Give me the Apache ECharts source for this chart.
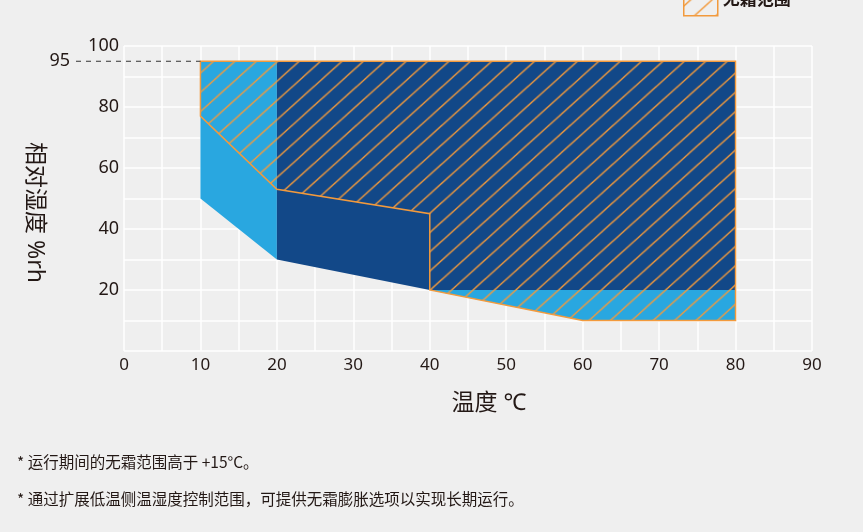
<!DOCTYPE html>
<html lang="zh">
<head>
    <meta charset="utf-8">
    <title>无霜范围</title>
    <script src="https://cdn.jsdelivr.net/npm/echarts@6/dist/echarts.min.js"></script>
    <style>
        html, body { margin: 0; padding: 0; background: #efefef; }
        #chart { width: 863px; height: 532px; }
    </style>
</head>
<body>
<div id="chart"></div>
<script type="text/javascript">
    // 区域顶点 [温度, 相对湿度]
    var lightLeft = [[10, 95], [20, 95], [20, 30], [10, 50]];
    var lightBottom = [[40, 20], [80, 20], [80, 10], [60, 10]];
    var darkArea = [[20, 95], [80, 95], [80, 20], [40, 20], [20, 30]];
    var frostFree = [[10, 95], [80, 95], [80, 10], [60, 10], [40, 20], [40, 45], [20, 53], [10, 77]];
    var guide95 = [[0, 95], [10, 95]];
    var guideLabel = '95';
    var notes = [
        '* 运行期间的无霜范围高于 +15°C。',
        '* 通过扩展低温侧温湿度控制范围，可提供无霜膨胀选项以实现长期运行。'
    ];

    var ORANGE = '#f29a3d';
    var TEXT = '#231815';

    // 斜线纹理（约42°）
    var tile = document.createElement('canvas');
    tile.width = 40; tile.height = 40;
    var tc = tile.getContext('2d');
    tc.strokeStyle = ORANGE;
    tc.lineWidth = 1.4;
    tc.beginPath();
    for (var c = -20; c <= 80; c += 20) {
        tc.moveTo(c + 2, -2);
        tc.lineTo(c - 42, 42);
    }
    tc.stroke();
    var hatch = { image: tile, repeat: 'repeat', x: 3.4, y: 0, scaleX: 1.07, scaleY: 0.963 };

    function polygonSeries(name, pts, style, z) {
        return {
            type: 'custom',
            name: name,
            z: z,
            data: pts,
            encode: { x: 0, y: 1 },
            renderItem: function (params, api) {
                if (params.dataIndex !== 0) return null;
                var points = pts.map(function (p) { return api.coord(p); });
                return { type: 'polygon', shape: { points: points }, style: style };
            }
        };
    }

    var chart = echarts.init(document.getElementById('chart'), null, { renderer: 'canvas' });
    var option = {
        backgroundColor: '#efefef',
        animation: false,
        textStyle: { fontFamily: '"Noto Sans", "Noto Sans CJK SC", sans-serif', color: TEXT },
        grid: { left: 124, right: 51, top: 46, bottom: 181 },
        legend: {
            data: [{
                name: '无霜范围',
                icon: 'rect',
                itemStyle: { color: hatch, borderColor: ORANGE, borderWidth: 1.5 }
            }],
            left: 683, top: -17, padding: 0,
            itemWidth: 34, itemHeight: 32,
            textStyle: { fontSize: 17, fontWeight: 'bold', color: TEXT }
        },
        xAxis: {
            type: 'value', min: 0, max: 90, interval: 10,
            name: '温度 ℃', nameLocation: 'middle', nameGap: 41,
            nameTextStyle: { fontSize: 23, color: TEXT, padding: [0, 0, 0, 42] },
            axisLine: { show: false }, axisTick: { show: false },
            axisLabel: { fontSize: 17, color: TEXT, margin: 6 },
            splitLine: { lineStyle: { color: '#ffffff', width: 1.5 } },
            minorTick: { show: false, splitNumber: 2 },
            minorSplitLine: { show: true, lineStyle: { color: '#ffffff', width: 1.5 } }
        },
        yAxis: {
            type: 'value', min: 0, max: 100, interval: 20,
            name: '相对湿度 %rh', nameLocation: 'middle', nameGap: 78, nameRotate: -90,
            nameTextStyle: { fontSize: 23, color: TEXT, padding: [0, 0, 0, 28] },
            axisLine: { show: false }, axisTick: { show: false },
            axisLabel: { fontSize: 18, color: TEXT, margin: 5, showMinLabel: false, padding: [0, 0, 5, 0] },
            splitLine: { lineStyle: { color: '#ffffff', width: 1.5 } },
            minorTick: { show: false, splitNumber: 2 },
            minorSplitLine: { show: true, lineStyle: { color: '#ffffff', width: 1.5 } }
        },
        graphic: notes.map(function (t, i) {
            return {
                type: 'text', left: 17, top: 454 + i * 37,
                style: { text: t, fontSize: 15.5, fill: TEXT, fontFamily: '"Noto Sans CJK SC", sans-serif' }
            };
        }),
        series: [
            polygonSeries('浅蓝左', lightLeft, { fill: '#29a7e0' }, 1),
            polygonSeries('浅蓝下', lightBottom, { fill: '#29a7e0' }, 1),
            polygonSeries('深蓝', darkArea, { fill: '#124888' }, 2),
            {
                type: 'custom',
                name: '无霜范围',
                z: 3,
                data: frostFree,
                encode: { x: 0, y: 1 },
                itemStyle: { color: hatch, borderColor: ORANGE, borderWidth: 1.5 },
                renderItem: function (params, api) {
                    if (params.dataIndex !== 0) return null;
                    var points = frostFree.map(function (p) { return api.coord(p); });
                    return {
                        type: 'polygon', shape: { points: points },
                        style: { fill: hatch, stroke: ORANGE, lineWidth: 1.5, lineJoin: 'miter' }
                    };
                }
            },
            {
                type: 'custom',
                name: '95',
                z: 4,
                clip: false,
                data: guide95,
                encode: { x: 0, y: 1 },
                renderItem: function (params, api) {
                    if (params.dataIndex !== 0) return null;
                    var a = api.coord(guide95[0]);
                    var b = api.coord(guide95[1]);
                    return {
                        type: 'group',
                        children: [{
                            type: 'line',
                            shape: { x1: a[0] - 48, y1: a[1], x2: b[0], y2: b[1] },
                            style: { stroke: '#333333', lineWidth: 1, lineDash: [5, 5] }
                        }, {
                            type: 'text',
                            style: {
                                x: a[0] - 54, y: a[1], text: guideLabel,
                                align: 'right', verticalAlign: 'middle',
                                fontSize: 18, fill: TEXT, fontFamily: '"Noto Sans", sans-serif'
                            }
                        }]
                    };
                }
            }
        ]
    };
    chart.setOption(option);
</script>
</body>
</html>
